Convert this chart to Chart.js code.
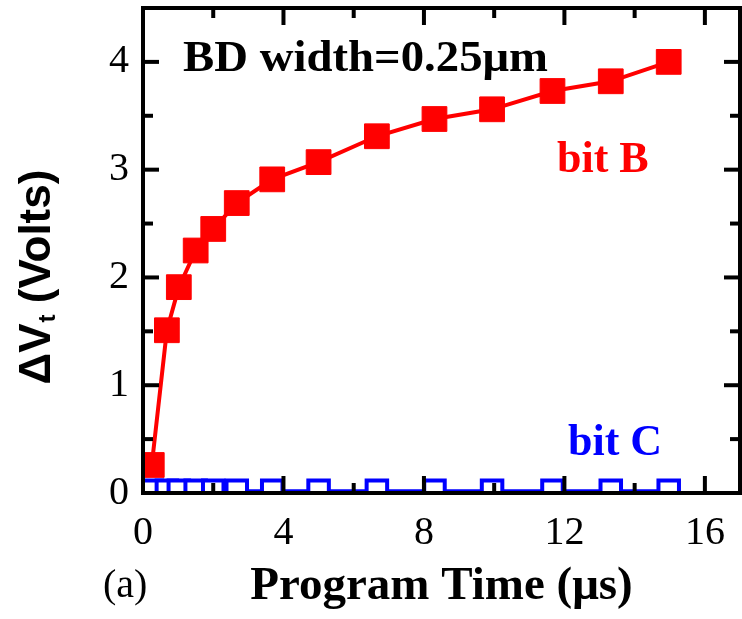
<!DOCTYPE html>
<html>
<head>
<meta charset="utf-8">
<script src="https://cdn.jsdelivr.net/npm/chart.js@4.4.0/dist/chart.umd.min.js"></script>
<style>
  html, body { margin: 0; padding: 0; background: #fff; }
  canvas { display: block; }
</style>
</head>
<body>
<canvas id="grafica" width="742" height="619"></canvas>
<script>
// datos
const tiempos = [0.25, 0.68, 1.02, 1.5, 2.0, 2.67, 3.68, 5.0, 6.66, 8.3, 9.94, 11.66, 13.32, 14.97];
const bitB = [0.26, 1.51, 1.91, 2.25, 2.45, 2.69, 2.91, 3.07, 3.31, 3.47, 3.56, 3.73, 3.82, 4.0];
const bitC = [0.02, 0.02, 0.02, 0.02, 0.02, 0.02, 0.02, 0.02, 0.02, 0.02, 0.02, 0.02, 0.02, 0.02];
const ticksX = [0, 4, 8, 12, 16];
const menoresX = [2, 6, 10, 14];
const ticksY = [0, 1, 2, 3, 4];
const menoresY = [0.5, 1.5, 2.5, 3.5];

const serif = '"Liberation Serif", "Times New Roman", serif';
const sans = '"Liberation Sans", Arial, sans-serif';

const $grafica = document.querySelector("#grafica");

const sinPadding = s => {
  s.paddingLeft = 0;
  s.paddingRight = 0;
  s.paddingTop = 0;
  s.paddingBottom = 0;
};

// marco con ticks hacia adentro y textos
const marco = {
  id: 'marco',
  afterDatasetsDraw(chart) {
    const { ctx, chartArea: a, scales: { x, y } } = chart;
    ctx.save();
    ctx.strokeStyle = '#000';
    ctx.lineWidth = 4;
    const tick = (px, py, dx, dy) => {
      ctx.beginPath();
      ctx.moveTo(px, py);
      ctx.lineTo(px + dx, py + dy);
      ctx.stroke();
    };
    ticksX.forEach(v => {
      const p = x.getPixelForValue(v);
      tick(p, a.bottom, 0, -17);
      tick(p, a.top, 0, 17);
    });
    menoresX.forEach(v => {
      const p = x.getPixelForValue(v);
      tick(p, a.bottom, 0, -10);
      tick(p, a.top, 0, 10);
    });
    ticksY.forEach(v => {
      const p = y.getPixelForValue(v);
      tick(a.left, p, 16, 0);
      tick(a.right, p, -16, 0);
    });
    menoresY.forEach(v => {
      const p = y.getPixelForValue(v);
      tick(a.left, p, 10, 0);
      tick(a.right, p, -10, 0);
    });
    ctx.strokeRect(a.left, a.top, a.right - a.left, a.bottom - a.top);
    ctx.restore();
  },
  afterDraw(chart) {
    const ctx = chart.ctx;
    ctx.save();
    ctx.textBaseline = 'alphabetic';
    ctx.textAlign = 'left';

    // anotacion superior, estirada al ancho del original
    ctx.fillStyle = '#000';
    ctx.font = 'bold 45px ' + serif;
    const nota = 'BD width=0.25\u03BCm';
    const wn = ctx.measureText(nota).width;
    ctx.save();
    ctx.translate(183, 71);
    ctx.scale(365 / wn, 1);
    ctx.fillText(nota, 0, 0);
    ctx.restore();

    ctx.font = 'bold 44px ' + serif;
    ctx.fillStyle = '#FF0000';
    ctx.fillText('bit B', 557, 172);

    ctx.fillStyle = '#0000FF';
    ctx.fillText('bit C', 568, 455);

    ctx.fillStyle = '#000';
    ctx.font = '40px ' + serif;
    ctx.fillText('(a)', 103, 597);

    // titulo eje Y con subindice
    ctx.translate(50, 277);
    ctx.rotate(-Math.PI / 2);
    const grande = 'bold 44px ' + sans;
    const chico = 'bold 24px ' + sans;
    ctx.font = grande;
    const w1 = ctx.measureText('\u0394V').width;
    const w3 = ctx.measureText(' (Volts)').width;
    ctx.font = chico;
    const w2 = ctx.measureText('t').width;
    let x0 = -(w1 + w2 + w3) / 2;
    ctx.font = grande;
    ctx.fillText('\u0394V', x0, 0);
    ctx.font = chico;
    ctx.fillText('t', x0 + w1 + 1, 5);
    ctx.font = grande;
    ctx.fillText(' (Volts)', x0 + w1 + w2, 0);
    ctx.restore();
  }
};

new Chart($grafica, {
  type: 'line',
  data: {
    datasets: [
      {
        label: 'bit B',
        data: tiempos.map((t, i) => ({ x: t, y: bitB[i] })),
        borderColor: '#FF0000',
        backgroundColor: '#FF0000',
        borderWidth: 4,
        pointStyle: 'rect',
        pointRadius: 17.5,
        pointBorderWidth: 1,
        pointBackgroundColor: '#FF0000',
        pointBorderColor: '#FF0000',
        tension: 0
      },
      {
        label: 'bit C',
        data: tiempos.map((t, i) => ({ x: t, y: bitC[i] })),
        borderColor: '#0000FF',
        backgroundColor: '#FFFFFF',
        borderWidth: 3,
        pointStyle: 'rect',
        pointRadius: 14.5,
        pointBorderWidth: 4,
        pointBackgroundColor: '#FFFFFF',
        pointBorderColor: '#0000FF',
        tension: 0
      }
    ]
  },
  options: {
    responsive: false,
    animation: false,
    devicePixelRatio: 1,
    layout: { autoPadding: false, padding: { left: 0, right: 2, top: 8, bottom: 0 } },
    plugins: {
      legend: { display: false },
      tooltip: { enabled: false }
    },
    scales: {
      x: {
        type: 'linear',
        min: 0,
        max: 17,
        afterBuildTicks: s => { s.ticks = ticksX.map(v => ({ value: v })); },
        afterFit: s => { s.height = 126; sinPadding(s); },
        grid: { display: false, drawTicks: false },
        border: { display: false },
        ticks: {
          color: '#000',
          padding: 16,
          maxRotation: 0,
          font: { family: serif, size: 40 }
        },
        title: {
          display: true,
          text: 'Program Time (\u03BCs)',
          color: '#000',
          font: { family: serif, size: 47, weight: 'bold' },
          padding: { top: 0, bottom: 4 }
        }
      },
      y: {
        type: 'linear',
        min: 0,
        max: 4.5,
        afterBuildTicks: s => { s.ticks = ticksY.map(v => ({ value: v })); },
        afterFit: s => { s.width = 143; sinPadding(s); },
        grid: { display: false, drawTicks: false },
        border: { display: false },
        ticks: {
          color: '#000',
          padding: 14,
          font: { family: serif, size: 40 }
        }
      }
    }
  },
  plugins: [marco]
});
</script>
</body>
</html>
